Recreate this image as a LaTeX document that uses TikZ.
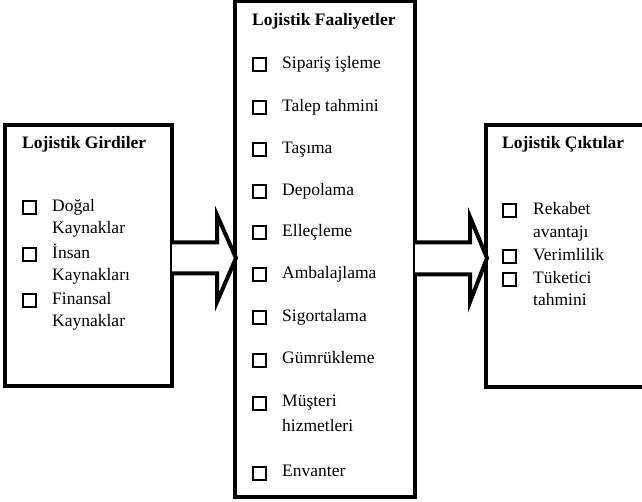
\documentclass[tikz,border=0pt]{standalone}
\usepackage{fontspec}
\setmainfont{Liberation Serif}
\begin{document}
\begin{tikzpicture}[x=1pt,y=-1pt,
  panel/.style={draw=black,line width=4pt,fill=white},
  blockarrow/.style={draw=black,line width=4pt,line join=miter,fill=white},
  title/.style={anchor=mid west,inner sep=0pt,font=\fontsize{17.5}{20}\selectfont\bfseries},
  item/.style={anchor=mid west,inner sep=0pt,font=\fontsize{17.5}{20}\selectfont},
  cbox/.style={draw=black,line width=2pt,minimum size=13pt,inner sep=0pt}]
\useasboundingbox (0,0) rectangle (642,502);
% panels
\draw[panel] (5,125) rectangle (172,386);
\draw[panel] (486,125) -- (660,125) (486,387) -- (660,387);
\fill[white] (488,127) rectangle (642,385);
\draw[black,line width=4pt] (660,125) -- (486,125) -- (486,387) -- (660,387);
\draw[panel] (235,1.5) rectangle (415,496.5);
\coordinate (lin) at (172,257);
\coordinate (rout) at (415,257);
% arrows
\draw[blockarrow] (172,242.5) -- (217,242.5) -- (217,215) -- (236,258) -- (217,302) -- (217,273.5) -- (172,273.5);
\draw[blockarrow] (415,242.5) -- (470,242.5) -- (470,217) -- (487,258) -- (470,302) -- (470,274.5) -- (415,274.5);
% left panel
\node[title] (tg) at (22,146) {Lojistik Girdiler};
\node[cbox] (cg1) at (29.5,208) {};
\node[item] (g1) at (52,209) {Doğal};
\node[item] (g1b) at (52,231) {Kaynaklar};
\node[cbox] (cg2) at (29.5,255) {};
\node[item] (g2) at (52,256) {İnsan};
\node[item] (g2b) at (52,278) {Kaynakları};
\node[cbox] (cg3) at (29.5,301) {};
\node[item] (g3) at (52,302) {Finansal};
\node[item] (g3b) at (52,324) {Kaynaklar};
% middle panel
\node[title] (tf) at (252,23) {Lojistik Faaliyetler};
\foreach \y/\t [count=\i] in {65/Sipariş işleme,108/Talep tahmini,150/Taşıma,192/Depolama,233/Elleçleme,275/Ambalajlama,318/Sigortalama,360/Gümrükleme,403/Müşteri,473/Envanter}{
  \node[cbox] (cf\i) at (259.5,\y) {};
  \node[item] (f\i) at (282,\y+1) {\t};
}
\node[item] (f9b) at (282,429) {hizmetleri};
% right panel
\node[title] (tc) at (502,146) {Lojistik Çıktılar};
\node[cbox] (cc1) at (509.5,211) {};
\node[item] (c1) at (533,212) {Rekabet};
\node[item] (c1b) at (533,235) {avantajı};
\node[cbox] (cc2) at (509.5,257) {};
\node[item] (c2) at (533,258) {Verimlilik};
\node[cbox] (cc3) at (509.5,280) {};
\node[item] (c3) at (533,281) {Tüketici};
\node[item] (c3b) at (533,303) {tahmini};
\end{tikzpicture}
\end{document}
